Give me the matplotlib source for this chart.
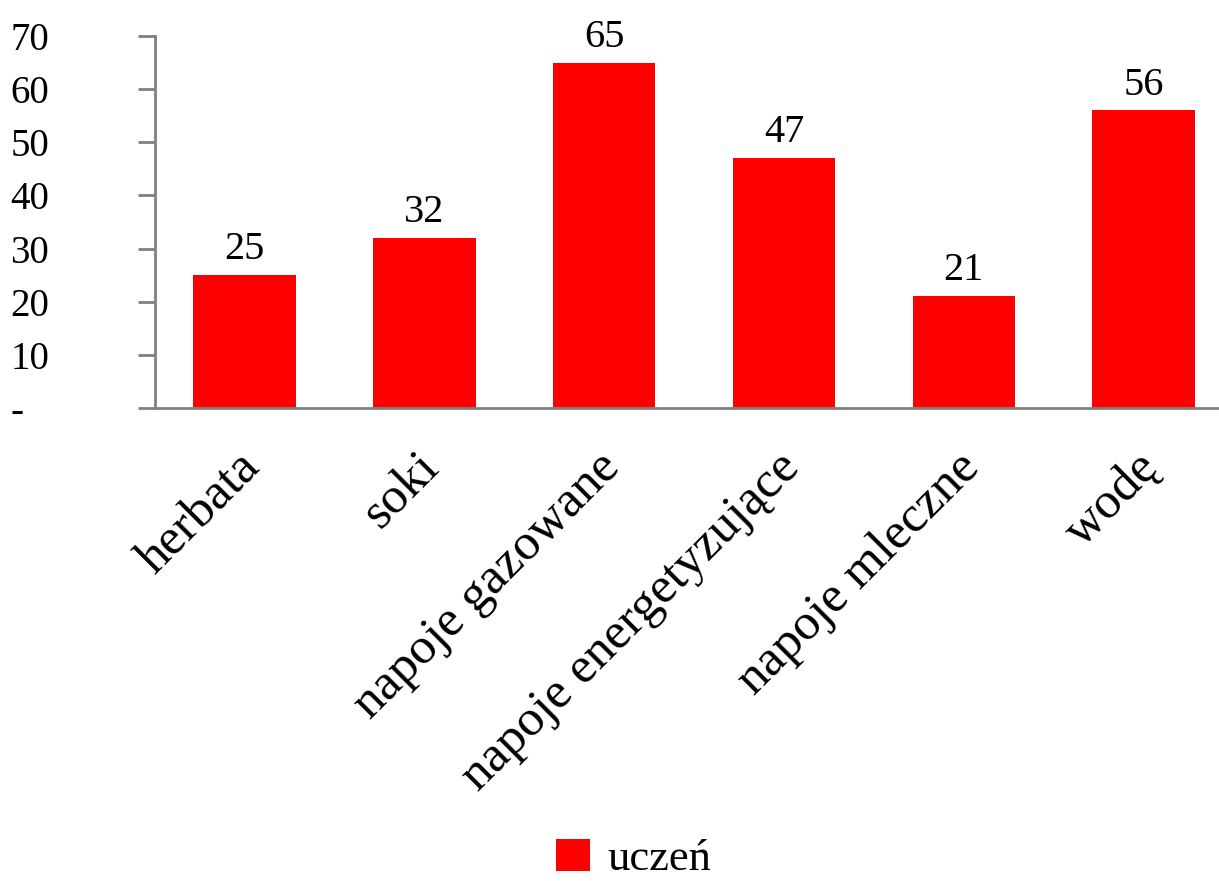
import matplotlib.pyplot as plt
from matplotlib.transforms import ScaledTranslation

categories = ["herbata", "soki", "napoje gazowane", "napoje energetyzujące", "napoje mleczne", "wodę"]
values = [25, 32, 65, 47, 21, 56]
yticks = [0, 10, 20, 30, 40, 50, 60, 70]
ytick_labels = ["-", "10", "20", "30", "40", "50", "60", "70"]

plt.rcParams['font.family'] = ['Liberation Serif', 'DejaVu Serif']

fig = plt.figure(figsize=(12.19, 8.81), dpi=100)
ax = fig.add_axes([0.127, 0.537, 0.873, 0.422])

x = range(len(categories))
bars = ax.bar(x, values, width=0.57, color='#ff0000', label='uczeń', zorder=2)
for xi, v in zip(x, values):
    ax.text(xi, v + 1.3, str(v), ha='center', va='bottom', fontsize=29)

ax.set_xlim(-0.5, 5.42)
ax.set_ylim(0, 70)
ax.set_yticks(yticks)
ax.set_yticklabels(ytick_labels, fontsize=28)
ax.set_xticks(list(x))
ax.set_xticklabels(categories, rotation=45, ha='right', va='center',
                   rotation_mode='anchor', fontsize=37)
ax.tick_params(axis='x', length=0, pad=38)
offset = ScaledTranslation(6 / 72, 0, fig.dpi_scale_trans)
for lbl in ax.get_xticklabels():
    lbl.set_transform(lbl.get_transform() + offset)

ax.tick_params(axis='y', length=12, color='#808080', width=2)
for lbl in ax.get_yticklabels():
    lbl.set_horizontalalignment('left')
ax.yaxis.set_tick_params(pad=92)

for s in ['top', 'right']:
    ax.spines[s].set_visible(False)
for s in ['left', 'bottom']:
    ax.spines[s].set_color('#808080')
    ax.spines[s].set_linewidth(2)

fig.legend(handles=[bars], labels=['uczeń'], loc='center', bbox_to_anchor=(0.52, 0.025),
           frameon=False, fontsize=32, handlelength=0.75, handleheight=0.75, handletextpad=0.4)

fig.savefig('out.png')
